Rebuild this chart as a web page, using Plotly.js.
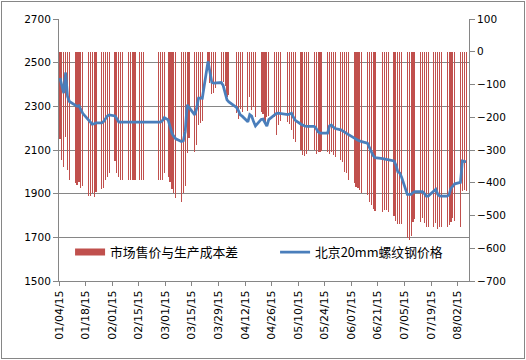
<!DOCTYPE html>
<html><head><meta charset="utf-8">
<script src="https://cdn.plot.ly/plotly-3.0.1.min.js"></script>
<style>
body{margin:0;background:#fff}
#chart{width:526px;height:360px}
#chart .bars path{shape-rendering:crispEdges}
#frame{position:absolute;left:1px;top:1px;width:522px;height:356px;border:1px solid #868686;pointer-events:none}
</style>
</head><body>
<div id="chart"></div><div id="frame"></div>
<script>
const dates = [
 "2015-01-04","2015-01-05","2015-01-06","2015-01-07","2015-01-08","2015-01-09",
 "2015-01-12","2015-01-13","2015-01-14","2015-01-15","2015-01-16",
 "2015-01-19","2015-01-20","2015-01-21","2015-01-22","2015-01-23",
 "2015-01-26","2015-01-27","2015-01-28","2015-01-29","2015-01-30",
 "2015-02-02","2015-02-03","2015-02-04","2015-02-05","2015-02-06",
 "2015-02-09","2015-02-10","2015-02-11","2015-02-12","2015-02-13",
 "2015-02-15","2015-02-16","2015-02-17",
 "2015-02-25","2015-02-26","2015-02-27","2015-02-28",
 "2015-03-02","2015-03-03","2015-03-04","2015-03-05","2015-03-06",
 "2015-03-09","2015-03-10","2015-03-11","2015-03-12","2015-03-13",
 "2015-03-16","2015-03-17","2015-03-18","2015-03-19","2015-03-20",
 "2015-03-23","2015-03-24","2015-03-25","2015-03-26","2015-03-27",
 "2015-03-30","2015-03-31","2015-04-01","2015-04-02","2015-04-03",
 "2015-04-07","2015-04-08","2015-04-09","2015-04-10",
 "2015-04-13","2015-04-14","2015-04-15","2015-04-16","2015-04-17",
 "2015-04-20","2015-04-21","2015-04-22","2015-04-23","2015-04-24",
 "2015-04-27","2015-04-28","2015-04-29","2015-04-30",
 "2015-05-04","2015-05-05","2015-05-06","2015-05-07","2015-05-08",
 "2015-05-11","2015-05-12","2015-05-13","2015-05-14","2015-05-15",
 "2015-05-18","2015-05-19","2015-05-20","2015-05-21","2015-05-22",
 "2015-05-25","2015-05-26","2015-05-27","2015-05-28","2015-05-29",
 "2015-06-01","2015-06-02","2015-06-03","2015-06-04","2015-06-05",
 "2015-06-08","2015-06-09","2015-06-10","2015-06-11","2015-06-12",
 "2015-06-15","2015-06-16","2015-06-17","2015-06-18","2015-06-19",
 "2015-06-23","2015-06-24","2015-06-25","2015-06-26",
 "2015-06-29","2015-06-30","2015-07-01","2015-07-02","2015-07-03",
 "2015-07-06","2015-07-07","2015-07-08","2015-07-09","2015-07-10",
 "2015-07-13","2015-07-14","2015-07-15","2015-07-16","2015-07-17",
 "2015-07-20","2015-07-21","2015-07-22","2015-07-23","2015-07-24",
 "2015-07-27","2015-07-28","2015-07-29","2015-07-30","2015-07-31",
 "2015-08-03","2015-08-04","2015-08-05","2015-08-06"
];
// 市场售价与生产成本差 (right axis)
const gapValues = [
 -266,-330,-351,-259,-361,-391,
 -402,-407,-397,-415,-410,
 -439,-439,-432,-442,-427,
 -419,-417,-391,-381,-369,
 -333,-371,-381,-391,-393,
 -393,-393,-391,-391,-391,
 -391,-391,-391,
 -391,-391,-391,-371,
 -381,-397,-420,-432,-446,
 -458,-430,-409,-310,-262,
 -305,-284,-223,-218,-211,
 -50,-95,-130,-125,-110,
 -101,-91,-106,-137,-131,
 -187,-205,-175,-185,
 -182,-137,-177,-170,-198,
 -185,-190,-215,-200,-195,
 -200,-255,-225,-210,
 -215,-221,-239,-267,-276,
 -300,-315,-318,-312,-300,
 -300,-313,-307,-307,-303,
 -307,-313,-307,-315,-320,
 -330,-337,-366,-371,-391,
 -402,-412,-417,-422,-430,
 -437,-460,-468,-481,-485,
 -490,-482,-482,-490,
 -500,-516,-526,-526,-526,
 -568,-575,-562,-519,-511,
 -519,-509,-524,-534,-534,
 -534,-524,-542,-534,-534,
 -534,-529,-519,-509,-516,
 -534,-424,-422,-424
];
// 北京20mm螺纹钢价格 (left axis)
const priceValues = [
 2430,2395,2360,2455,2345,2322,
 2307,2300,2303,2284,2268,
 2238,2227,2218,2220,2224,
 2224,2230,2243,2256,2261,
 2256,2243,2228,2228,2228,
 2228,2228,2228,2228,2228,
 2228,2228,2228,
 2228,2228,2235,2248,
 2238,2207,2177,2162,2151,
 2139,2142,2185,2307,2295,
 2261,2290,2338,2338,2337,
 2506,2460,2410,2406,2407,
 2409,2395,2360,2330,2320,
 2295,2280,2261,2255,
 2229,2262,2255,2230,2210,
 2240,2242,2225,2210,2239,
 2261,2267,2269,2268,
 2262,2265,2268,2250,2236,
 2218,2213,2210,2208,2208,
 2208,2198,2183,2177,2177,
 2177,2210,2215,2205,2198,
 2192,2188,2182,2176,2170,
 2155,2150,2145,2140,2138,
 2131,2115,2093,2075,2065,
 2060,2058,2058,2056,
 2050,2030,2000,1995,1975,
 1897,1897,1897,1905,1909,
 1909,1909,1900,1889,1889,
 1910,1920,1898,1890,1889,
 1889,1895,1925,1935,1945,
 1952,2050,2048,2047
];
const gapName = "市场售价与生产成本差";
const priceName = "北京20mm螺纹钢价格";
const xRange = ["2015-01-04", "2015-08-08"];
const xTick0 = "2015-01-04";
const leftRange = [1500, 2700];
const rightRange = [-700, 100];

const DAY = 86400000;
const xMid = dates.map(d => d + " 12:00");
const barColor = "#C0504D";
const lineColor = "#4A7EBB";
const gridColor = "#868686";

const traces = [
  {type:"bar", x:xMid, y:gapValues, yaxis:"y", width:0.6*DAY, marker:{color:barColor, line:{width:0}}, showlegend:false, name:gapName, hoverinfo:"skip"},
  {type:"scatter", mode:"lines", x:[null], y:[null], yaxis:"y", line:{color:barColor, width:7}, name:gapName, hoverinfo:"skip"},
  {type:"scatter", mode:"lines", x:xMid, y:priceValues, yaxis:"y2", line:{color:lineColor, width:2.75}, name:priceName, hoverinfo:"skip"}
];

const layout = {
  width:526, height:360,
  margin:{l:59, r:57, t:19, b:79, pad:0},
  paper_bgcolor:"#fff", plot_bgcolor:"#fff",
  font:{family:"DejaVu Sans, Noto Sans CJK SC", size:10.5, color:"#000"},
  showlegend:true,
  bargap:0,
  xaxis:{type:"date", range:xRange, tick0:xTick0, dtick:14*DAY, tickformat:"%m/%d/%y", tickangle:-90,
         tickfont:{size:11},
         ticks:"outside", ticklen:4, tickcolor:gridColor, showline:true, linecolor:gridColor, linewidth:1,
         showgrid:false, zeroline:false, fixedrange:true},
  yaxis:{side:"right", range:rightRange, tick0:0, dtick:100, ticks:"outside", ticklen:5, tickcolor:gridColor,
         showline:true, linecolor:gridColor, showgrid:false, zeroline:false, fixedrange:true},
  yaxis2:{overlaying:"y", side:"left", anchor:"x", range:leftRange, tick0:1500, dtick:200, ticks:"outside", ticklen:5, tickcolor:gridColor,
          showline:true, linecolor:gridColor, showgrid:true, gridcolor:gridColor, gridwidth:1, zeroline:false, fixedrange:true},
  legend:{orientation:"h", x:0.027, xanchor:"left", y:0.11, yanchor:"middle", bgcolor:"rgba(0,0,0,0)",
          font:{family:"Noto Sans CJK SC, DejaVu Sans", size:12.8, color:"#000"},
          entrywidth:160, entrywidthmode:"pixels", traceorder:"normal"}
};

Plotly.newPlot("chart", traces, layout, {staticPlot:true, displayModeBar:false});
</script>
</body></html>
